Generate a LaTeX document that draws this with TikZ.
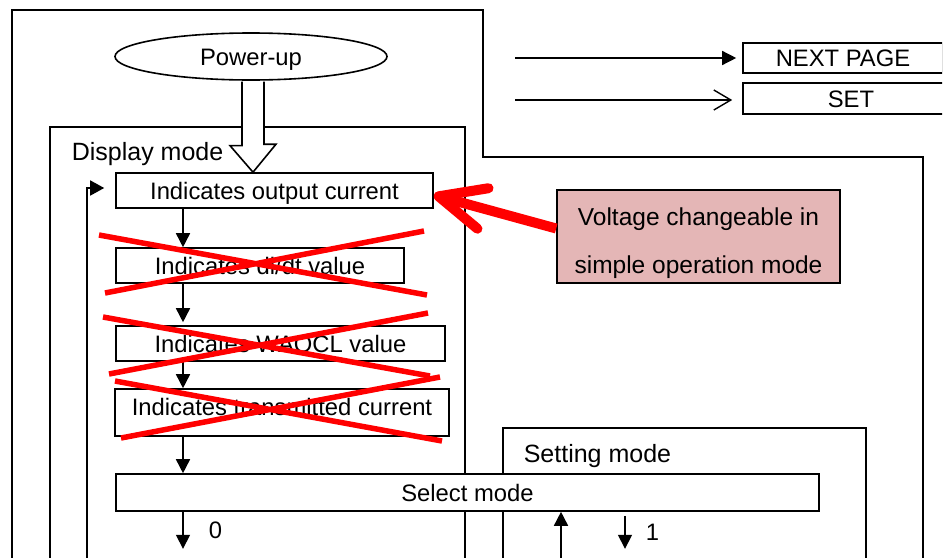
\documentclass[tikz,border=0pt]{standalone}
\usepackage{fontspec}
\setmainfont{Liberation Sans}
\usepackage{tikz}
\usetikzlibrary{shapes.geometric, arrows.meta, positioning, calc}
\definecolor{notepink}{RGB}{228,182,182}

\begin{document}
\begin{tikzpicture}[x=1pt, y=-1pt, line width=1.6pt, >={Triangle[length=14pt, width=14pt]},
  font=\fontsize{23.8}{28}\selectfont,
  box/.style={draw, fill=white, inner sep=0pt, text height=17pt, text depth=0pt},
  xout/.style={red, line width=5.5pt}]
  \useasboundingbox (0,0) rectangle (945,557);
  \clip (0,0) rectangle (942,557);
  % mode frames
  \draw (12,565) -- (12,10) -- (483,10) -- (483,157) -- (923,157) -- (923,565);
  \draw (50,565) -- (50,127) -- (465,127) -- (465,565);
  \draw (503,565) -- (503,428) -- (866,428) -- (866,565);
  \node[anchor=base west, inner sep=0pt, font=\fontsize{25}{30}\selectfont] (dmode) at (71,160) {Display mode};
  \node[anchor=base west, inner sep=0pt, font=\fontsize{25}{30}\selectfont] (smode) at (523,462) {Setting mode};
  % key
  \node[box, minimum width=200, minimum height=30] (next) at (843,58) {NEXT PAGE};
  \node[box, minimum width=216, minimum height=31] (set) at (851,98.5) {SET};
  \coordinate (nextfrom) at (515,58);
  \coordinate (setfrom) at (515,100);
  \draw[->, line width=1.4pt, shorten >=6pt] (nextfrom) -- (nextfrom -| next.west);
  \draw[-{Straight Barb[length=17pt, width=20pt]}, line width=1.4pt, shorten >=10pt]
      (setfrom) -- (setfrom -| set.west);
  % power-up
  \node[draw, ellipse, minimum width=272, minimum height=47, inner sep=0pt,
        text height=17pt, text depth=0pt] (pwr) at (251,56.5) {Power-up};
  \node[box, minimum width=317, minimum height=35] (out) at (274.5,190.5) {Indicates output current};
  \draw[fill=white, line join=miter] ([xshift=-9pt, yshift=-0.8pt]pwr.south) -- ++(0,64) -- ++(-12,0)
      -- ([xshift=2pt]pwr.south |- out.north) -- ++(23,-28) -- ++(-12,0) -- ([xshift=13pt, yshift=-0.8pt]pwr.south);
  % ---------------- display steps ----------------
  \node[box, minimum width=288, minimum height=35] (didt) at (260,265.5) {Indicates di/dt value};
  \node[box, minimum width=329, minimum height=35] (waocl) at (280.5,343.5) {Indicates WAOCL value};
  \node[box, minimum width=334, minimum height=47, text depth=12pt] (trans) at (282,412.5) {Indicates transmitted current};
  \node[box, minimum width=703, minimum height=37] (sel) at (467.5,492.5) {Select mode};
  \coordinate (col) at (183,0);
  \coordinate (setcol) at (625,0);
  \draw[->] (out.south -| col) -- (didt.north -| col);
  \draw[->] (didt.south -| col) -- ($(waocl.north -| col)+(0,-3)$);
  \draw[->] (waocl.south -| col) -- (trans.north -| col);
  \draw[->] (trans.south -| col) -- (sel.north -| col);
  \draw[->] (sel.south -| col) -- ++(0,37) node[midway, right=25pt, inner sep=0pt] {0};
  \draw[->] ($(sel.south -| setcol)+(0,4)$) -- ++(0,33) node[midway, right=20pt, inner sep=0pt] {1};
  \coordinate (upbot) at (561,565);
  \draw[->] (upbot) -- (upbot |- sel.south);
  \coordinate (loopbot) at (87,565);
  \draw[-{Triangle[length=14pt, width=15pt]}] (loopbot) |- ([xshift=-11pt, yshift=2.5pt]out.west);
  % note
  \node[draw, fill=notepink, minimum width=283, minimum height=93, inner sep=0pt, align=center,
        text height=78pt, text depth=5pt, font=\fontsize{24.5}{48}\selectfont] (volt) at (698.5,236.5)
        {Voltage changeable in\\simple operation mode};
  \draw[red, line width=10pt, -{Straight Barb[round, length=46pt, width=42pt]}]
      ([yshift=8pt]volt.west) -- ([yshift=-4.5pt]out.east);
  % crossed-out steps
  \draw[xout] (99,235) -- (427,295) (105,293) -- (424,231);
  \draw[xout] (103,317) -- (430,376) (109,374) -- (428,313);
  \draw[xout] (115,381) -- (442,441) (121,438) -- (440,377);
\end{tikzpicture}
\end{document}
